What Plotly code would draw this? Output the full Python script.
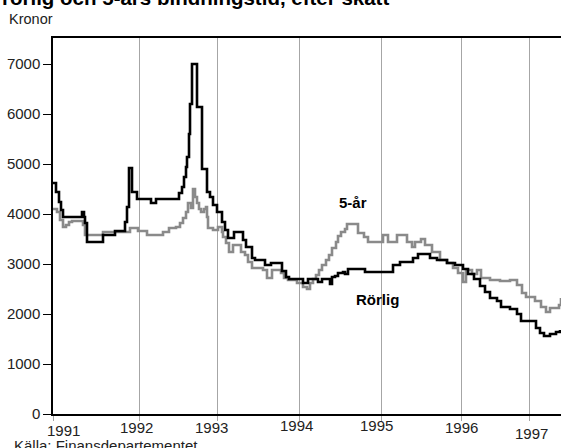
import plotly.graph_objects as go

# Observation position along the time axis (irregularly spaced observations)
year_labels = ["1991", "1992", "1993", "1994", "1995", "1996", "1997"]
year_pos = [0, 86, 164, 246, 328, 408, 476]

# Rörlig (variable rate) – kronor, step changes at observation positions
rorlig_x = [0, 3, 6, 8, 10, 29, 31, 32, 34, 50, 62, 72, 74, 76, 79, 84, 98, 103,
            126, 129, 131, 133, 134, 136, 137, 139, 144, 149, 154, 157, 160, 164,
            169, 172, 175, 181, 190, 193, 199, 202, 212, 218, 229, 233, 236, 250,
            255, 265, 269, 277, 279, 282, 285, 290, 292, 295, 312, 340, 347, 360,
            365, 377, 384, 394, 402, 410, 415, 421, 427, 432, 437, 444, 448, 457,
            464, 468, 483, 487, 491, 497, 503, 507]
rorlig_y = [4620, 4440, 4240, 4080, 3940, 4040, 3940, 3820, 3440, 3580, 3660, 3840,
            4140, 4920, 4440, 4300, 4220, 4300, 4420, 4540, 4740, 4940, 5140, 5600,
            6200, 7000, 6140, 4900, 4440, 4340, 4180, 4040, 3840, 3680, 3520, 3640,
            3480, 3340, 3120, 3080, 2980, 3020, 2860, 2740, 2700, 2620, 2700, 2640,
            2700, 2600, 2740, 2760, 2820, 2840, 2800, 2900, 2840, 2980, 3040, 3120,
            3200, 3120, 3080, 3020, 2980, 2900, 2800, 2700, 2560, 2440, 2320, 2260,
            2140, 2100, 2000, 1860, 1720, 1620, 1560, 1600, 1640, 1680]

# 5-år (5-year fixed rate) – kronor
fem_x = [0, 4, 7, 10, 13, 16, 19, 30, 32, 50, 77, 85, 94, 110, 116, 123, 127, 130,
         133, 135, 138, 140, 142, 144, 146, 148, 151, 153, 154, 155, 160, 165, 169,
         170, 173, 176, 180, 188, 192, 195, 199, 210, 214, 219, 228, 231, 235, 244,
         250, 254, 257, 260, 263, 266, 269, 273, 276, 279, 283, 285, 288, 292, 294,
         305, 311, 315, 330, 335, 344, 354, 359, 362, 368, 372, 379, 387, 394, 400,
         405, 410, 413, 419, 424, 428, 437, 447, 457, 464, 469, 473, 482, 488, 493,
         497, 506, 508]
fem_y = [4100, 4040, 3880, 3740, 3780, 3840, 3860, 3780, 3580, 3640, 3720, 3660,
         3580, 3640, 3720, 3740, 3820, 3920, 4040, 4220, 4120, 4500, 4340, 4220,
         4100, 4040, 4100, 4140, 3940, 3720, 3680, 3740, 3640, 3540, 3420, 3240,
         3380, 3240, 3180, 3040, 2920, 2880, 2720, 2880, 2820, 2720, 2680, 2620,
         2540, 2500, 2620, 2700, 2780, 2880, 2980, 3080, 3180, 3320, 3440, 3560,
         3640, 3700, 3800, 3620, 3540, 3440, 3580, 3440, 3580, 3440, 3340, 3440,
         3500, 3380, 3240, 3080, 3020, 2920, 2820, 2640, 2880, 2800, 2880, 2720,
         2680, 2660, 2680, 2580, 2420, 2340, 2260, 2140, 2040, 2120, 2180, 2320]

FONT = "Liberation Sans, Arial, sans-serif"

fig = go.Figure()
fig.add_trace(go.Scatter(x=fem_x, y=fem_y, mode="lines", line_shape="hv",
                         line=dict(color="#8a8a8a", width=2.6), name="5-år",
                         hoverinfo="skip"))
fig.add_trace(go.Scatter(x=rorlig_x, y=rorlig_y, mode="lines", line_shape="hv",
                         line=dict(color="#000000", width=2.6), name="Rörlig",
                         hoverinfo="skip"))

annotations = []
# Year labels (slightly irregular placement, as in the source)
xshifts = [10, -3, -6, -3, -5, 0, 2]
ycent = [430.5, 427.5, 428, 425, 425, 428, 434]
for lab, pos, xs, yc in zip(year_labels, year_pos, xshifts, ycent):
    annotations.append(dict(x=pos, y=(414 - yc) / 376, xref="x", yref="paper",
                            text=lab, showarrow=False, xanchor="center",
                            yanchor="middle", xshift=xs,
                            font=dict(family=FONT, size=15, color="#222")))

annotations += [
    dict(x=-53 / 508, y=(414 + 3) / 376, xref="paper", yref="paper",
         text="<b>rörlig och 5-års bindningstid, efter skatt</b>", showarrow=False,
         xanchor="left", yanchor="middle",
         font=dict(family=FONT, size=20.5, color="#000")),
    dict(x=(7 - 53) / 508, y=(414 - 19) / 376, xref="paper", yref="paper",
         text="Kronor", showarrow=False, xanchor="left", yanchor="middle",
         font=dict(family=FONT, size=14.5, color="#222")),
    dict(x=(12 - 53) / 508, y=(414 - 445) / 376, xref="paper", yref="paper",
         text="Källa: Finansdepartementet", showarrow=False, xanchor="left",
         yanchor="middle", font=dict(family=FONT, size=15, color="#222")),
    dict(x=300, y=4240, xref="x", yref="y", text="<b>5-år</b>", showarrow=False,
         font=dict(family=FONT, size=15, color="#000")),
    dict(x=324, y=2300, xref="x", yref="y", text="<b>Rörlig</b>", showarrow=False,
         font=dict(family=FONT, size=15, color="#000")),
]

fig.update_layout(
    width=561, height=448,
    margin=dict(l=53, r=0, t=38, b=34),
    paper_bgcolor="white", plot_bgcolor="white",
    showlegend=False,
    font=dict(family=FONT, size=15, color="#222"),
    annotations=annotations,
)
fig.update_xaxes(range=[0, 508], tickvals=year_pos, showticklabels=False,
                 showgrid=True, gridcolor="#a6a6a6", gridwidth=1,
                 ticks="outside", ticklen=5, tickcolor="#a6a6a6",
                 showline=True, linecolor="#000", linewidth=1.5, mirror=True,
                 zeroline=False, automargin=False)
fig.update_yaxes(range=[0, 7520], tickvals=[0, 1000, 2000, 3000, 4000, 5000, 6000, 7000],
                 showgrid=False, zeroline=False, ticks="outside", ticklen=8,
                 tickcolor="#000", showline=True, linecolor="#000", linewidth=1.5,
                 automargin=False,
                 tickfont=dict(family=FONT, size=15, color="#222"))

fig.write_html("out.html",
               config={"displayModeBar": False},
               post_script="document.body.style.margin='0';"
                           "document.body.style.overflow='hidden';")
